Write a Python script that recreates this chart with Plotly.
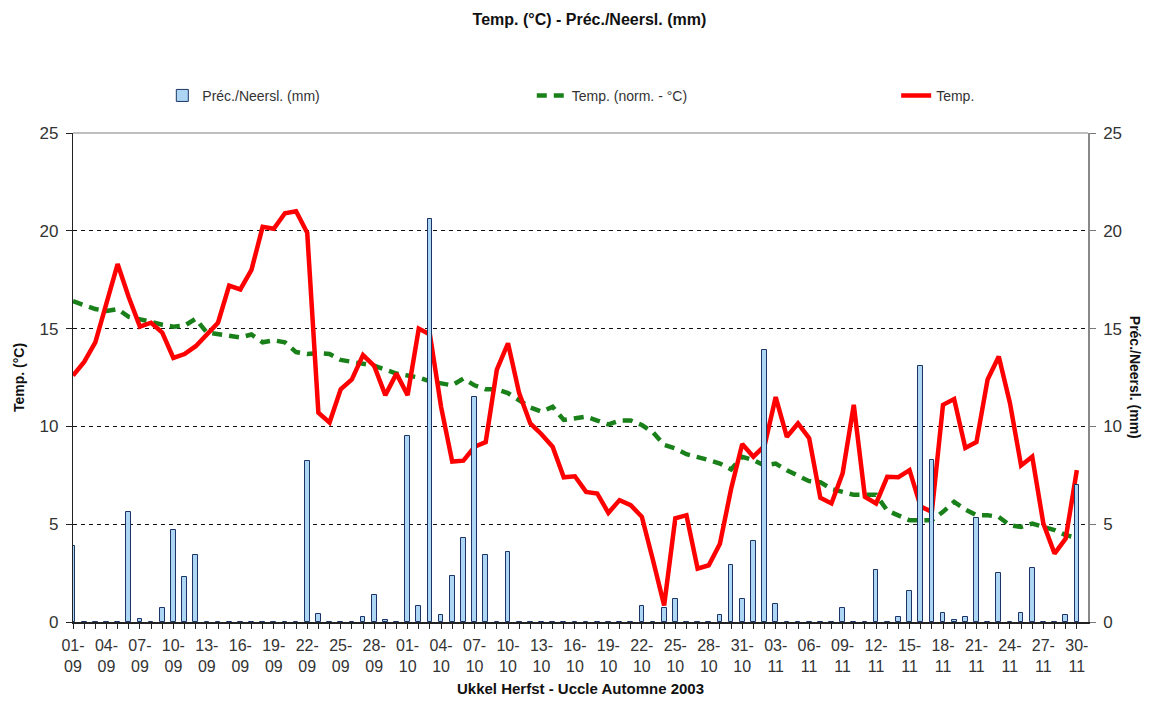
import plotly.graph_objects as go
import pandas as pd

# Daily values, Uccle autumn 2003 (01-09 .. 30-11)
days = pd.date_range("2003-09-01", "2003-11-30", freq="D")

temp = [
    12.6, 13.3, 14.3, 16.3, 18.3, 16.6, 15.1, 15.3, 14.8, 13.5,
    13.7, 14.1, 14.7, 15.3, 17.2, 17.0, 18.0, 20.2, 20.1, 20.9,
    21.0, 19.9, 10.7, 10.2, 11.9, 12.4, 13.65, 13.1, 11.6, 12.7,
    11.6, 15.0, 14.7, 11.0, 8.2, 8.25, 8.96, 9.2, 12.9, 14.25,
    11.7, 10.15, 9.6, 8.96, 7.4, 7.45, 6.65, 6.57, 5.58, 6.23,
    5.97, 5.38, 3.16, 0.85, 5.3, 5.46, 2.73, 2.9, 4.0, 6.8,
    9.1, 8.45, 9.0, 11.5, 9.47, 10.15, 9.4, 6.35, 6.06, 7.6,
    11.1, 6.4, 6.06, 7.42, 7.4, 7.76, 5.9, 5.63, 11.1, 11.4,
    8.9, 9.2, 12.4, 13.57, 11.2, 8.0, 8.45, 5.03, 3.5, 4.27,
    7.76,
]

temp_norm = [
    16.4, 16.2, 16.0, 15.9, 16.0, 15.6, 15.5, 15.35, 15.2, 15.1,
    15.15, 15.5, 14.8, 14.7, 14.65, 14.55, 14.7, 14.3, 14.4, 14.3,
    13.8, 13.7, 13.75, 13.7, 13.4, 13.3, 13.2, 13.1, 12.9, 12.7,
    12.6, 12.5, 12.3, 12.2, 12.1, 12.45, 12.1, 11.9, 11.9, 11.7,
    11.35, 10.97, 10.75, 11.0, 10.33, 10.4, 10.5, 10.3, 10.1, 10.3,
    10.3, 10.07, 9.7, 9.05, 8.87, 8.58, 8.45, 8.28, 8.1, 7.8,
    8.45, 8.28, 8.0, 8.1, 7.76, 7.46, 7.2, 7.15, 6.8, 6.65,
    6.5, 6.5, 6.5, 5.7, 5.46, 5.2, 5.2, 5.2, 5.63, 6.14,
    5.75, 5.46, 5.46, 5.37, 4.95, 4.86, 5.03, 4.86, 4.7, 4.44,
    4.3,
]

precip = [
    3.9, 0, 0, 0, 0, 5.6, 0.15, 0, 0.73, 4.7,
    2.3, 3.45, 0, 0, 0, 0, 0, 0, 0, 0,
    0, 8.25, 0.4, 0, 0, 0, 0.25, 1.4, 0.1, 0,
    9.5, 0.8, 20.6, 0.35, 2.35, 4.3, 11.5, 3.45, 0, 3.6,
    0, 0, 0, 0, 0, 0, 0, 0, 0, 0,
    0, 0.8, 0, 0.7, 1.2, 0, 0, 0, 0.35, 2.9,
    1.2, 4.13, 13.9, 0.94, 0, 0, 0, 0, 0, 0.73,
    0, 0, 2.65, 0, 0.25, 1.6, 13.1, 8.3, 0.48, 0.1,
    0.25, 5.3, 0, 2.5, 0, 0.48, 2.75, 0, 0, 0.35,
    7.0,
]

idx = list(range(len(days)))
tick_text = [f"{d:%d}-<br>{d:%m}" if i % 3 == 0 else "" for i, d in enumerate(days)]

txt = "#333333"
dark = "#111111"
font = "Liberation Sans, Arial, sans-serif"

fig = go.Figure()

fig.add_trace(go.Bar(
    x=idx, y=precip, name="Préc./Neersl. (mm)", yaxis="y2", legend="legend",
    width=0.42,
    marker=dict(color="#acd6f4", line=dict(color="#1c3566", width=1)),
))
fig.add_trace(go.Scatter(
    x=idx, y=temp_norm, name="Temp. (norm. - °C)", mode="lines", legend="legend2",
    line=dict(color="#1a801a", width=4.5, dash="10px,7px"),
))
fig.add_trace(go.Scatter(
    x=idx, y=temp, name="Temp.", mode="lines", legend="legend3",
    line=dict(color="#ff0000", width=4.5),
))

# one legend box per series, spread along the top like the original
leg = dict(orientation="h", y=1.076, xanchor="left", yanchor="middle",
           font=dict(size=14, color=txt), bgcolor="rgba(0,0,0,0)")

fig.update_layout(
    width=1149, height=702,
    margin=dict(l=73, r=61, t=133, b=80),
    paper_bgcolor="white", plot_bgcolor="white",
    font=dict(family=font, size=15, color=txt),
    title=dict(text="<b>Temp. (°C) - Préc./Neersl. (mm)</b>",
               x=0.513, xanchor="center", y=0.972, yanchor="middle",
               font=dict(size=16, color=dark)),
    showlegend=True,
    legend=dict(leg, x=0.088),
    legend2=dict(leg, x=0.452),
    legend3=dict(leg, x=0.811),
    bargap=0,
    xaxis=dict(
        range=[0, 91], tickmode="array", tickvals=idx, ticktext=tick_text,
        ticks="outside", ticklen=5, tickcolor="#222", showgrid=False,
        showline=True, linecolor="#222", linewidth=1.5, zeroline=False,
        tickangle=0, tickfont=dict(size=16, color=txt), automargin=False,
        ticklabelstandoff=3,
        title=dict(text="<b>Ukkel Herfst - Uccle Automne 2003</b>",
                   font=dict(size=15, color=dark), standoff=10),
    ),
    yaxis=dict(
        range=[0, 25], dtick=5, ticks="outside", ticklen=6, tickcolor="#222",
        showline=True, linecolor="#222", linewidth=1.2, zeroline=False,
        showgrid=True, gridcolor=dark, gridwidth=1, griddash="4px,4px",
        tickfont=dict(size=17, color=txt), automargin=False, ticklabelstandoff=4,
        title=dict(text="<b>Temp. (°C)</b>", font=dict(size=14, color=dark),
                   standoff=11),
    ),
    yaxis2=dict(
        range=[0, 25], dtick=5, overlaying="y", side="right",
        ticks="outside", ticklen=6, tickcolor="#777", automargin=False,
        showline=True, linecolor="#888", linewidth=1.5, showgrid=False,
        zeroline=False, tickfont=dict(size=17, color=txt), ticklabelstandoff=4,
    ),
    shapes=[dict(type="line", xref="paper", yref="paper", x0=0, x1=1, y0=1, y1=1,
                 line=dict(color="#aaaaaa", width=1.5))],
    annotations=[dict(text="<b>Préc./Neersl. (mm)</b>", xref="paper", yref="paper",
                      x=1.047, y=0.5, textangle=90, showarrow=False,
                      xanchor="center", yanchor="middle",
                      font=dict(size=14, color=dark))],
)

# the page body has a default 8px margin; drop it so the figure sits at 0,0
fig.write_html("out.html", config={"displayModeBar": False},
               post_script="document.body.style.margin='0px';")
